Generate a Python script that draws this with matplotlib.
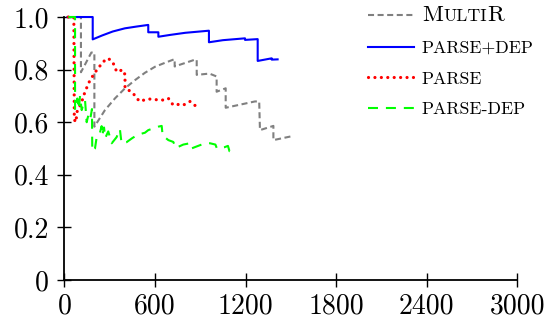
import matplotlib
matplotlib.use("Agg")
import matplotlib.pyplot as plt

plt.rcParams['font.family'] = ['cmr10', 'DejaVu Serif']
plt.rcParams['axes.unicode_minus'] = False

# ---- data (x = number of extractions, y = precision) ----
multir_x = [20, 109, 109, 178, 198, 198, 268, 335, 401, 467, 533, 600, 666, 730, 730,
            865, 876, 876, 960, 1008, 1008, 1068, 1068, 1262, 1290, 1295, 1384, 1384, 1516]
multir_y = [1.0, 1.0, 0.79, 0.865, 0.865, 0.583, 0.646, 0.691, 0.729, 0.760, 0.788, 0.811, 0.826, 0.840, 0.812,
            0.838, 0.838, 0.780, 0.785, 0.774, 0.716, 0.729, 0.655, 0.679, 0.679, 0.570, 0.586, 0.532, 0.548]

pd_x = [20, 187, 187, 250, 320, 400, 480, 555, 555, 622, 622, 700, 800, 957, 957,
        1050, 1196, 1196, 1280, 1280, 1373, 1373, 1412]
pd_y = [1.0, 1.0, 0.915, 0.930, 0.945, 0.957, 0.964, 0.970, 0.942, 0.942, 0.925, 0.932, 0.940, 0.948, 0.904,
        0.912, 0.919, 0.913, 0.916, 0.833, 0.843, 0.838, 0.839]

parse_x = [25, 62, 65, 75, 85, 110, 136, 169, 213, 257, 286, 310, 323, 346, 360, 390, 401, 401,
           430, 456, 480, 500, 530, 566, 600, 648, 688, 700, 721, 760, 787, 832, 850, 876]
parse_y = [1.0, 1.0, 0.61, 0.60, 0.645, 0.67, 0.716, 0.760, 0.798, 0.830, 0.843, 0.835, 0.824, 0.792, 0.796, 0.798, 0.78, 0.729,
           0.72, 0.709, 0.69, 0.679, 0.685, 0.688, 0.686, 0.684, 0.691, 0.68, 0.665, 0.668, 0.665, 0.679, 0.67, 0.659]

pmd_x = [25, 70, 70, 85, 95, 103, 114, 125, 136, 147, 158, 170, 182, 184, 202, 215, 235, 246, 250, 262, 270,
         290, 313, 345, 367, 378, 411, 450, 488, 533, 555, 621, 644, 650, 688, 721, 737, 787, 830, 840,
         931, 964, 1000, 1010, 1060, 1083, 1093, 1116]
pmd_y = [1.0, 1.0, 0.646, 0.69, 0.65, 0.70, 0.646, 0.67, 0.684, 0.60, 0.627, 0.61, 0.65, 0.49, 0.50, 0.55, 0.56, 0.585, 0.55, 0.58, 0.54,
         0.565, 0.52, 0.543, 0.574, 0.52, 0.524, 0.54, 0.553, 0.56, 0.57, 0.583, 0.586, 0.55, 0.532, 0.525, 0.502, 0.515, 0.52, 0.50,
         0.52, 0.52, 0.515, 0.50, 0.505, 0.51, 0.49, 0.49]

x_ticks = [0, 600, 1200, 1800, 2400, 3000]
x_labels = ["0", "600", "1200", "1800", "2400", "3000"]
y_ticks = [0, 0.2, 0.4, 0.6, 0.8, 1.0]
y_labels = ["0", "0.2", "0.4", "0.6", "0.8", "1.0"]

fig = plt.figure(figsize=(5.47, 3.28), dpi=100)
ax = fig.add_axes([0.1179, 0.1463, 0.8278, 0.8018])

l1, = ax.plot(multir_x, multir_y, color='#808080', lw=1.5, linestyle=(0, (2.9, 1.7)), clip_on=False)
l2, = ax.plot(pd_x, pd_y, color='#0000ff', lw=1.5, clip_on=False)
l3, = ax.plot(parse_x, parse_y, color='#ff0000', lw=2.3, linestyle=(0, (0.01, 2.0)),
              dash_capstyle='round', clip_on=False)
l4, = ax.plot(pmd_x, pmd_y, color='#00ff00', lw=1.5, linestyle=(0, (4.8, 3.8)), clip_on=False)

ax.set_xlim(0, 3000)
ax.set_ylim(0, 1.0)
ax.set_xticks(x_ticks, x_labels)
ax.set_yticks(y_ticks, y_labels)
for s in ['top', 'right']:
    ax.spines[s].set_visible(False)
for s in ['left', 'bottom']:
    ax.spines[s].set_linewidth(1.3)
ax.tick_params(direction='inout', length=10.5, width=1.0, labelsize=20, pad=4)
ax.tick_params(axis='y', pad=6)

leg = ax.legend([l1, l2, l3, l4], ["M", "PARSE+DEP", "PARSE", "PARSE-DEP"],
                loc='upper left', bbox_to_anchor=(0.655, 1.07), frameon=False,
                fontsize=12.8, handlelength=2.6, handletextpad=0.42, labelspacing=0.86,
                borderaxespad=0)

# small caps rendering for "MultiR": larger M and R, smaller ULTI
t0 = leg.get_texts()[0]
t0.set_fontsize(16.5)
fig.canvas.draw()
r = fig.canvas.get_renderer()
bb = t0.get_window_extent(r)
# baseline of M: bbox bottom + descent of 'p' in cmr10 (~0.194 em)
px_per_pt = fig.dpi / 72.0
base = bb.y0 + 0.194 * 16.5 * px_per_pt
s1 = fig.text(bb.x1 + 0.5, base, "ULTI", fontsize=12.8, ha='left', va='baseline', transform=None)
fig.canvas.draw()
bb1 = s1.get_window_extent(r)
fig.text(bb1.x1 + 0.5, base, "R", fontsize=16.5, ha='left', va='baseline', transform=None)

fig.savefig("out.png", dpi=100)
